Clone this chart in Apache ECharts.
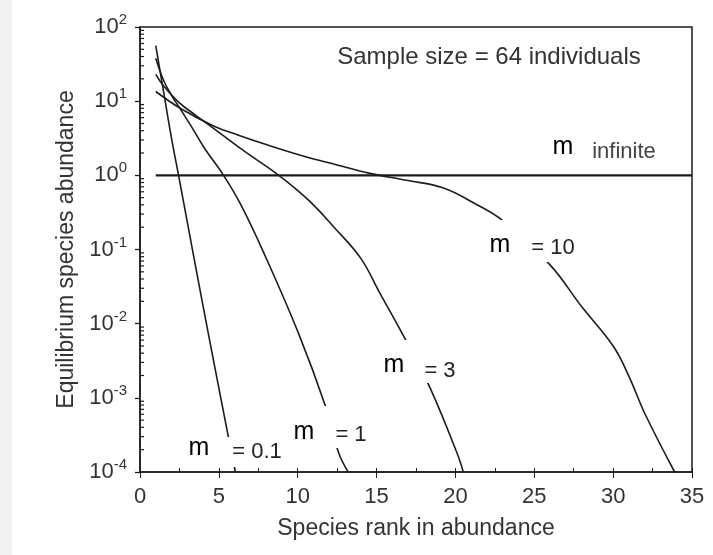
<!DOCTYPE html>
<html>
<head>
<meta charset="utf-8">
<script src="https://cdn.jsdelivr.net/npm/echarts@6/dist/echarts.min.js"></script>
<style>
  html, body { margin: 0; padding: 0; background: #fff; }
  #chart1 { width: 713px; height: 555px; }
</style>
</head>
<body>
<div id="chart1"></div>
<script>
// rank / abundance pairs
var rankM01 = [1, 1.5, 2, 2.5, 3.5, 4.5, 5.6, 6.05];
var abunM01 = [56, 13.2, 3.16, 0.87, 0.063, 0.0048, 0.0003, 0.0001];

var rankM1 = [1, 1.5, 2, 2.6, 3.3, 4.1, 5.3, 6.4, 7.8, 10.05, 11.75, 12.6, 13.2];
var abunM1 = [38, 19, 12, 7.6, 4.4, 2.3, 1.0, 0.40, 0.095, 0.0074, 0.00078, 0.00018, 0.0001];

var rankM3 = [1, 1.5, 2.5, 3.6, 4.6, 6.5, 8.8, 10.7, 12.3, 14, 15.2, 16.85, 18.4, 20.1, 20.5];
var abunM3 = [23, 16, 9.5, 6.3, 4.4, 2.2, 1.0, 0.46, 0.20, 0.076, 0.026, 0.006, 0.00135, 0.00018, 0.0001];

var rankM10 = [1, 2.6, 4.7, 6.2, 8, 10.5, 12.5, 14.5, 17, 19.2, 21.2, 23, 26, 28, 30, 31, 32, 33.9];
var abunM10 = [13.5, 7.9, 4.6, 3.5, 2.6, 1.78, 1.38, 1.07, 0.85, 0.68, 0.42, 0.245, 0.062, 0.017, 0.005, 0.00195, 0.00062, 0.0001];

var rankInf = [1, 35];
var abunInf = [1, 1];

var xTicks = [0, 5, 10, 15, 20, 25, 30, 35];
var yTicks = [0.0001, 0.001, 0.01, 0.1, 1, 10, 100];
var yMinorSteps = [2, 3, 4, 5, 6, 7, 8, 9];

var yMinorTicks = [];
yTicks.slice(0, -1).forEach(function (d) {
  yMinorSteps.forEach(function (s) { yMinorTicks.push([0, d * s]); });
});

function pairs(xs, ys) {
  var out = [];
  for (var i = 0; i < xs.length; i++) out.push([xs[i], ys[i]]);
  return out;
}

var ink = '#1c1c1c';
var txt = '#333';
var fontFam = '"Liberation Sans", Arial, sans-serif';

function curve(name, xs, ys, w) {
  return {
    type: 'line',
    name: name,
    data: pairs(xs, ys),
    showSymbol: false,
    smooth: 0.4,
    lineStyle: { color: ink, width: w || 1.6 },
    z: 2
  };
}

// label "m  = xx" with a white box hiding the curve underneath
function mLabel(box, mx, my, rest, rx, ry) {
  return {
    type: 'group',
    z: 100,
    children: [
      { type: 'rect', z: 100, shape: box, style: { fill: '#fff' } },
      { type: 'text', z: 101, x: mx, y: my, style: { text: 'm', font: '25px ' + fontFam, fill: '#000', align: 'center', verticalAlign: 'middle' } },
      { type: 'text', z: 101, x: rx, y: ry, style: { text: rest, font: '22px ' + fontFam, fill: '#222', align: 'center', verticalAlign: 'middle' } }
    ]
  };
}

var dom = document.getElementById('chart1');
var myChart = echarts.init(dom);
var option = {
  animation: false,
  backgroundColor: '#fff',
  grid: {
    left: 140, right: 21, top: 27, bottom: 83,
    show: true, borderColor: ink, borderWidth: 1.5
  },
  xAxis: [{
    type: 'value',
    min: 0, max: 35, interval: 5,
    name: 'Species rank in abundance',
    nameLocation: 'middle',
    nameGap: 45,
    nameTextStyle: { fontSize: 23, color: txt, fontFamily: fontFam },
    axisLine: { show: true, lineStyle: { color: ink, width: 1.5 } },
    axisTick: { show: true, length: 6, lineStyle: { color: ink } },
    splitLine: { show: false },
    axisLabel: {
      margin: 14, fontSize: 22, color: txt, fontFamily: fontFam,
      formatter: function (v) { return xTicks.indexOf(v) >= 0 ? String(v) : ''; }
    }
  }, {
    // inward half-step ticks
    type: 'value',
    position: 'bottom',
    min: 0, max: 35, interval: 2.5,
    axisLine: { show: false },
    axisTick: { show: true, inside: true, length: 4, lineStyle: { color: ink } },
    axisLabel: { show: false },
    splitLine: { show: false }
  }],
  yAxis: {
    type: 'log',
    logBase: 10,
    min: 0.0001, max: 100,
    interval: 1,
    name: 'Equilibrium species abundance',
    nameLocation: 'middle',
    nameGap: 56,
    nameTextStyle: { fontSize: 23, color: txt, fontFamily: fontFam },
    axisLine: { show: true, lineStyle: { color: ink, width: 1.5 } },
    axisTick: { show: true, length: 5, lineStyle: { color: ink, width: 1.3 } },
    splitLine: { show: false },
    axisLabel: {
      margin: 13,
      formatter: function (v) {
        var e = Math.round(Math.log10(v));
        return '{b|10}{s|' + e + '}';
      },
      rich: {
        b: { fontSize: 22, color: txt, fontFamily: fontFam },
        s: { fontSize: 15, color: txt, fontFamily: fontFam, padding: [0, 0, 14, 0] }
      }
    }
  },
  series: [
    curve('m = 0.1', rankM01, abunM01),
    curve('m = 1', rankM1, abunM1),
    curve('m = 3', rankM3, abunM3),
    curve('m = 10', rankM10, abunM10),
    curve('m infinite', rankInf, abunInf, 2.2),
    {
      // log minor ticks on the left axis, pointing inward
      type: 'custom',
      data: yMinorTicks,
      silent: true,
      z: 3,
      renderItem: function (params, api) {
        var p = api.coord([api.value(0), api.value(1)]);
        return {
          type: 'line',
          shape: { x1: p[0], y1: p[1], x2: p[0] + 4, y2: p[1] },
          style: { stroke: ink, lineWidth: 1.2 }
        };
      }
    }
  ],
  graphic: [
    { type: 'rect', left: 0, top: 0, shape: { width: 12, height: 555 }, style: { fill: '#f2f2f2' }, z: 0 },
    {
      type: 'text', x: 489, y: 57, z: 100,
      style: { text: 'Sample size = 64 individuals', font: '24px ' + fontFam, fill: txt, align: 'center', verticalAlign: 'middle' }
    },
    { type: 'text', x: 563, y: 147, z: 100, style: { text: 'm', font: '25px ' + fontFam, fill: '#000', align: 'center', verticalAlign: 'middle' } },
    { type: 'text', x: 624, y: 152, z: 100, style: { text: 'infinite', font: '22px ' + fontFam, fill: '#444', align: 'center', verticalAlign: 'middle' } },
    mLabel({ x: 486, y: 220, width: 94, height: 42 }, 500, 245, '= 10', 553, 248),
    mLabel({ x: 378, y: 340, width: 80, height: 43 }, 394, 365, '= 3', 440, 371),
    mLabel({ x: 288, y: 406, width: 82, height: 42 }, 304, 432, '= 1', 351, 435),
    mLabel({ x: 183, y: 437, width: 102, height: 30 }, 199, 448, '= 0.1', 257, 452)
  ]
};

if (option && typeof option === 'object') {
  myChart.setOption(option);
}
</script>
</body>
</html>
